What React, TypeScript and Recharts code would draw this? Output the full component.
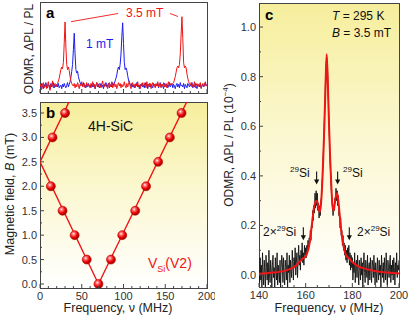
import React from 'react'
import { LineChart, Line, ComposedChart, Scatter, XAxis, YAxis, ReferenceDot } from 'recharts'

const FONT = '"Liberation Sans", Arial, Helvetica, sans-serif'
const AXIS = '#444'
const TICK = '#333'
const RED = '#f01414'
const BLUE = '#1c1cf0'

// ---- panel a: ODMR spectra, nu = 0..200 MHz (1 MHz step), values x100 (arb. units)
const specStart = 0
const specStep = 1
const red35mT = [
  2, 5, -1, 4, 7, 1, 3, 6, 0, 4, 8, 2, -2, 5, 3, 9, 1, 4, 6, 2,
  4, 6, 9, 12, 17, 22, 25, 23, 30, 52, 77, 48, 28, 22, 25, 21, 14, 9, 6, 4,
  3, 6, 1, 5, 2, 7, 4, 0, 5, 3, 8, 2, 4, 6, 1, 3, 7, 2, 5, 4,
  1, 6, 3, 8, 2, 5, 0, 4, 7, 3, 2, 6, 4, 1, 5, 9, 3, 2, 6, 4,
  3, 0, 5, 7, 2, 4, 8, 1, 3, 6, 2, 5, 0, 4, 7, 3, 6, 1, 5, 2,
  4, 8, 3, 1, 6, 2, 5, 9, 3, 0, 4, 7, 2, 5, 1, 6, 3, 8, 2, 4,
  0, 5, 3, 7, 2, 6, 4, 1, 8, 3, 5, 2, 6, 0, 4, 7, 3, 5, 1, 6,
  3, 8, 2, 4, 6, 1, 5, 3, 7, 2, 4, 6, 1, 5, 8, 3, 6, 4, 5, 6,
  7, 10, 14, 19, 24, 26, 24, 28, 40, 62, 83, 58, 30, 24, 26, 24, 17, 12, 8, 6,
  4, 7, 2, 5, 3, 8, 1, 4, 6, 2, 5, 3, 7, 0, 4, 6, 2, 5, 8, 3, 4,
]
const blue1mT = [
  4, 1, 6, 3, 0, 5, 2, 7, 3, 1, 5, 4, 0, 6, 2, 3, 7, 1, 4, 2,
  5, 2, 6, 1, 3, 4, 0, 5, 2, 6, 3, 1, 4, 7, 2, 5, 8, 13, 20, 28,
  45, 64, 40, 22, 18, 20, 14, 10, 7, 5, 6, 3, 7, 2, 4, 1, 5, 3, 6, 2,
  4, 1, 5, 2, 6, 3, 0, 4, 7, 2, 5, 1, 3, 6, 2, 4, 0, 5, 3, 7,
  2, 4, 6, 1, 3, 5, 2, 7, 4, 6, 9, 12, 16, 22, 25, 22, 28, 40, 60, 76,
  52, 30, 22, 24, 21, 15, 10, 7, 5, 3, 6, 2, 4, 1, 5, 3, 7, 2, 4, 0,
  5, 3, 6, 2, 4, 1, 7, 3, 5, 0, 4, 6, 2, 5, 3, 1, 6, 4, 2, 5,
  3, 6, 1, 4, 7, 2, 5, 3, 0, 6, 4, 2, 5, 1, 3, 7, 2, 4, 6, 1,
  5, 3, 0, 4, 6, 2, 5, 1, 7, 3, 4, 2, 6, 0, 5, 3, 1, 6, 4, 2,
  5, 3, 7, 1, 4, 2, 6, 3, 0, 5, 4, 2, 6, 1, 3, 5, 2, 4, 7, 3, 5,
]

// ---- panel b: resonance positions vs field
const ballNu = [70, 56, 85, 41.5, 98.5, 27, 114, 13, 127, 141.5, 15, 155.5, 30, 169.5]
const ballB = [0, 0.5, 0.5, 1.0, 1.0, 1.5, 1.5, 2.0, 2.0, 2.5, 3.0, 3.0, 3.5, 3.5]
const fitNu = [36.8, 0, 70, 177.8]
const fitB = [3.8, 2.5, 0, 3.8]

// ---- panel c: ODMR at 3.5 mT, 140..200 MHz (0.25 MHz step), values in 10^-6
const odmrStart = 140
const odmrStep = 0.25
const odmrVals = [
  // 140 - 149.75
  2, -3, 7, -2, 4, -5, 9, 1, -4, 6, 1, -6, 8, 3, -2, 5, -4, 10, 0, -3,
  6, 2, -5, 4, 8, -1, 3, -6, 7, 2, -2, 9, -4, 4, 1, -3, 6, -5, 3, 8,
  // 150 - 159.75
  5, -3, 7, 0, -4, 6, 3, -2, 9, -5, 4, 1, 8, -3, 6, 2, -1, 10, 4, -2,
  7, 3, 11, 0, 5, 9, -1, 6, 12, 4, 8, 2, 10, 6, 13, 5, 9, 4, 12, 8,
  // 160 - 169.75
  11, 7, 12, 9, 14, 10, 15, 13, 18, 14, 20, 19, 26, 22, 28, 25, 33, 27, 34, 28,
  33, 26, 29, 23, 28, 24, 30, 31, 37, 40, 48, 53, 62, 68, 79, 84, 88, 86, 80, 70,
  // 170 - 179.75
  60, 53, 45, 40, 34, 30, 27, 24, 28, 26, 31, 29, 35, 30, 34, 28, 32, 24, 26, 19,
  23, 16, 18, 12, 16, 10, 13, 8, 12, 6, 10, 5, 11, 7, 12, 4, 9, 2, 8, 3,
  // 180 - 189.75
  7, -2, 5, 1, 9, -3, 4, 6, -1, 8, 2, -4, 6, 3, -2, 7, 0, 5, -5, 4,
  9, 1, -3, 6, 2, -1, 8, -4, 3, 5, -2, 7, 1, -3, 6, 4, -1, 8, 2, -4,
  // 190 - 200
  5, 1, -3, 7, 2, -2, 6, 0, 4, -5, 8, 3, -1, 5, -3, 7, 2, -2, 9, 1,
  -4, 6, 3, -1, 5, 8, -3, 4, 0, 6, -2, 7, 3, -4, 5, 1, 9, -1, 4, 2, 6,
]
const fitFreq = [
  140, 142, 144, 146, 148, 150, 152, 154, 155, 156, 157, 158, 159,
  159.5, 160, 160.5, 161, 161.5, 162, 162.5, 163, 163.5, 164, 164.5, 165, 165.5, 166, 166.5, 167, 167.5,
  168, 168.5, 169, 169.5, 170, 170.5, 171, 171.5, 172, 172.5, 173, 173.5, 174, 174.5, 175, 175.5,
  176, 176.5, 177, 177.5, 178, 178.5, 179,
  180, 181, 182, 184, 186, 188, 190, 193, 196, 200,
]
const fitVals = [
  0.5, 0.6, 0.8, 1.0, 1.2, 1.5, 2.0, 2.7, 3.2, 4.0, 5.0, 6.0, 6.8,
  7.0, 7.6, 8.5, 10, 12, 15, 19, 23, 27, 29, 30, 29.5, 27, 25.5, 28, 35, 46,
  60, 76, 89, 77, 61, 47, 36, 28, 26, 29, 32, 33, 30, 25, 20, 16,
  13, 10.5, 8.8, 7.8, 7.2, 6.8, 6.3,
  5.3, 4.5, 3.8, 3.0, 2.4, 2.0, 1.6, 1.2, 0.9, 0.6,
]
// arrows: [frequency, tip value]
const arrowNu = [164.7, 173.7, 159.0, 178.7]
const arrowTip = [0.365, 0.365, 0.14, 0.14]

const freqTicksA = [0, 10, 20, 30, 40, 50, 60, 70, 80, 90, 100, 110, 120, 130, 140, 150, 160, 170, 180, 190, 200]
const freqLabelsB = [0, 50, 100, 150, 200]
const fieldTicks = [0, 0.25, 0.5, 0.75, 1, 1.25, 1.5, 1.75, 2, 2.25, 2.5, 2.75, 3, 3.25, 3.5]
const fieldLabels = [0, 0.5, 1, 1.5, 2, 2.5, 3, 3.5]
const freqTicksC = [140, 145, 150, 155, 160, 165, 170, 175, 180, 185, 190, 195, 200]
const freqLabelsC = [140, 160, 180, 200]
const odmrTicks = [0, 0.1, 0.2, 0.3, 0.4, 0.5, 0.6, 0.7, 0.8, 0.9, 1.0]
const odmrLabels = [0, 0.2, 0.4, 0.6, 0.8, 1.0]

const specData = red35mT.map((r, i) => ({ nu: specStart + i * specStep, red: r / 100, blue: blue1mT[i] / 100 }))
const balls = ballNu.map((nu, i) => ({ nu, B: ballB[i] }))
const fitLine = fitNu.map((nu, i) => ({ nu, B: fitB[i] }))
const odmrData = odmrVals.map((v, i) => ({ nu: odmrStart + i * odmrStep, y: v / 100 }))
const odmrFit = fitFreq.map((nu, i) => ({ nu, y: fitVals[i] / 100 }))

const isIn = (list: number[], v: number) => list.some(l => Math.abs(l - v) < 1e-6)

const bottomTick = (labels: number[], fmt?: (v: number) => string) => (props: any) => {
  const { x, y, payload } = props
  const major = isIn(labels, payload.value)
  return (
    <g>
      <line x1={x} x2={x} y1={y} y2={y - (major ? 4 : 2)} stroke={AXIS} />
      {major && fmt && (
        <text x={x} y={y + 12} textAnchor="middle" fontSize={11} fill={TICK} fontFamily={FONT}>
          {fmt(payload.value)}
        </text>
      )}
    </g>
  )
}

const leftTick = (labels: number[], fmt: (v: number) => string) => (props: any) => {
  const { x, y, payload } = props
  const major = isIn(labels, payload.value)
  return (
    <g>
      <line x1={x} x2={x + (major ? 4 : 2)} y1={y} y2={y} stroke={AXIS} />
      {major && (
        <text x={x - 3} y={y + 4} textAnchor="end" fontSize={11} fill={TICK} fontFamily={FONT}>
          {fmt(payload.value)}
        </text>
      )}
    </g>
  )
}

const Ball = (props: any) => (
  <circle cx={props.cx} cy={props.cy} r={4.5} fill="url(#ballGrad)" stroke="#b80000" strokeWidth={0.6} />
)

const Arrow = (props: any) => {
  const { cx, cy } = props
  return (
    <g>
      <line x1={cx} x2={cx} y1={cy - 13} y2={cy - 4} stroke="#111" strokeWidth={1.1} />
      <polygon points={`${cx - 2.6},${cy - 5} ${cx + 2.6},${cy - 5} ${cx},${cy}`} fill="#111" />
    </g>
  )
}

const box = (left: number, top: number, w: number, h: number, bg: string): React.CSSProperties => ({
  position: 'absolute', left, top, width: w, height: h, background: bg, border: `1px solid ${AXIS}`, boxSizing: 'border-box',
})
const yellowBg = 'linear-gradient(to bottom, #f6ee9c 0%, #fbf7cf 45%, #ffffff 100%)'

export default function App() {
  return (
    <div style={{ position: 'fixed', left: 0, top: 0, width: 411, height: 318, background: '#fff', fontFamily: FONT }}>
      {/* plot backgrounds / frames */}
      <div style={box(40, 2, 168, 92, '#fff')} />
      <div style={box(40, 102, 168, 187, yellowBg)} />
      <div style={box(259, 3, 141, 285, yellowBg)} />

      {/* a */}
      <div style={{ position: 'absolute', left: 0, top: 0 }}>
        <LineChart width={215} height={100} data={specData} margin={{ top: 2, right: 8, bottom: 0, left: 40 }}>
          <XAxis dataKey="nu" type="number" domain={[0, 200]} ticks={freqTicksA} interval={0} height={7}
            tickSize={0} tickMargin={0} axisLine={false} tickLine={false} tick={bottomTick(freqLabelsB)} allowDataOverflow />
          <YAxis hide domain={[-0.05, 1]} allowDataOverflow />
          <Line dataKey="blue" stroke={BLUE} strokeWidth={1} dot={false} type="linear" isAnimationActive={false} />
          <Line dataKey="red" stroke={RED} strokeWidth={1} dot={false} type="linear" isAnimationActive={false} />
        </LineChart>
      </div>

      {/* b */}
      <div style={{ position: 'absolute', left: 0, top: 100 }}>
        <ComposedChart width={215} height={218} margin={{ top: 2, right: 8, bottom: 0, left: 0 }}>
          <defs>
            <radialGradient id="ballGrad" cx="38%" cy="35%" r="65%">
              <stop offset="0%" stopColor="#ffffff" />
              <stop offset="25%" stopColor="#ff7070" />
              <stop offset="65%" stopColor="#e80000" />
              <stop offset="100%" stopColor="#a00000" />
            </radialGradient>
          </defs>
          <XAxis dataKey="nu" type="number" domain={[0, 200]} ticks={freqTicksA} interval={0} height={30}
            tickSize={0} tickMargin={0} axisLine={false} tickLine={false} tick={bottomTick(freqLabelsB, v => String(v))} allowDataOverflow />
          <YAxis dataKey="B" type="number" domain={[-0.082, 3.725]} ticks={fieldTicks} interval={0} width={40}
            tickSize={0} tickMargin={0} axisLine={false} tickLine={false} tick={leftTick(fieldLabels, v => v.toFixed(1))} allowDataOverflow />
          <Line data={fitLine} dataKey="B" stroke={RED} strokeWidth={1.4} dot={false} type="linear" isAnimationActive={false} />
          <Scatter data={balls} dataKey="B" shape={Ball} isAnimationActive={false} />
        </ComposedChart>
      </div>

      {/* c */}
      <div style={{ position: 'absolute', left: 210, top: 0 }}>
        <ComposedChart width={201} height={318} margin={{ top: 3, right: 12, bottom: 0, left: 0 }}>
          <XAxis dataKey="nu" type="number" domain={[140, 200]} ticks={freqTicksC} interval={0} height={31}
            tickSize={0} tickMargin={0} axisLine={false} tickLine={false} tick={bottomTick(freqLabelsC, v => String(v))} allowDataOverflow />
          <YAxis type="number" domain={[-0.048, 1.097]} ticks={odmrTicks} interval={0} width={49}
            tickSize={0} tickMargin={0} axisLine={false} tickLine={false} tick={leftTick(odmrLabels, v => v.toFixed(1))} allowDataOverflow />
          <Line data={odmrData} dataKey="y" stroke="#111" strokeWidth={0.9} dot={false} type="linear" isAnimationActive={false} />
          <Line data={odmrFit} dataKey="y" stroke={RED} strokeWidth={2} dot={false} type="monotone" isAnimationActive={false} />
          {arrowNu.map((nu, i) => (
            <ReferenceDot key={i} x={nu} y={arrowTip[i]} shape={Arrow} />
          ))}
        </ComposedChart>
      </div>

      {/* texts */}
      <svg width={411} height={318} style={{ position: 'absolute', left: 0, top: 0, pointerEvents: 'none' }} fontFamily={FONT}>
        <text x={46} y={18} fontSize={15} fontWeight="bold" fill="#000">a</text>
        <text x={126} y={17} fontSize={12} fill={RED}>3.5 mT</text>
        <line x1={71} y1={21.7} x2={118} y2={13.5} stroke={RED} strokeWidth={0.9} />
        <line x1={170} y1={13.5} x2={178} y2={16.5} stroke={RED} strokeWidth={0.9} />
        <text x={86} y={48} fontSize={12} fill={BLUE}>1 mT</text>
        <text transform="translate(33,49) rotate(-90)" textAnchor="middle" fontSize={12} fill="#222">ODMR, ΔPL / PL</text>

        <text x={46} y={118} fontSize={15} fontWeight="bold" fill="#000">b</text>
        <text x={88} y={131} fontSize={14} fill="#111">4H-SiC</text>
        <text x={148} y={268} fontSize={14} fill={RED}>
          V<tspan dy={4} fontSize={9}>Si</tspan><tspan dy={-4} fontSize={14}>(V2)</tspan>
        </text>
        <text transform="translate(14,194) rotate(-90)" textAnchor="middle" fontSize={12.5} fill="#222">
          Magnetic field, <tspan fontStyle="italic">B</tspan> (mT)
        </text>
        <text x={118} y={312} textAnchor="middle" fontSize={12.5} fill="#222">Frequency, ν (MHz)</text>

        <text x={265} y={20} fontSize={15} fontWeight="bold" fill="#000">c</text>
        <text x={332} y={20} fontSize={12} fill="#111"><tspan fontStyle="italic">T</tspan> = 295 K</text>
        <text x={332} y={36.5} fontSize={12} fill="#111"><tspan fontStyle="italic">B</tspan> = 3.5 mT</text>
        <text x={290} y={177} fontSize={12} fill="#111"><tspan dy={-5} fontSize={8}>29</tspan><tspan dy={5}>Si</tspan></text>
        <text x={343} y={177} fontSize={12} fill="#111"><tspan dy={-5} fontSize={8}>29</tspan><tspan dy={5}>Si</tspan></text>
        <text x={263} y={236} fontSize={12} fill="#111">2×<tspan dy={-5} fontSize={8}>29</tspan><tspan dy={5}>Si</tspan></text>
        <text x={357} y={236} fontSize={12} fill="#111">2×<tspan dy={-5} fontSize={8}>29</tspan><tspan dy={5}>Si</tspan></text>
        <text transform="translate(233,145) rotate(-90)" textAnchor="middle" fontSize={12} fill="#222">
          ODMR, ΔPL / PL (10<tspan dy={-5} fontSize={8}>−4</tspan><tspan dy={5}>)</tspan>
        </text>
        <text x={329} y={312} textAnchor="middle" fontSize={12.5} fill="#222">Frequency, ν (MHz)</text>
      </svg>
    </div>
  )
}
